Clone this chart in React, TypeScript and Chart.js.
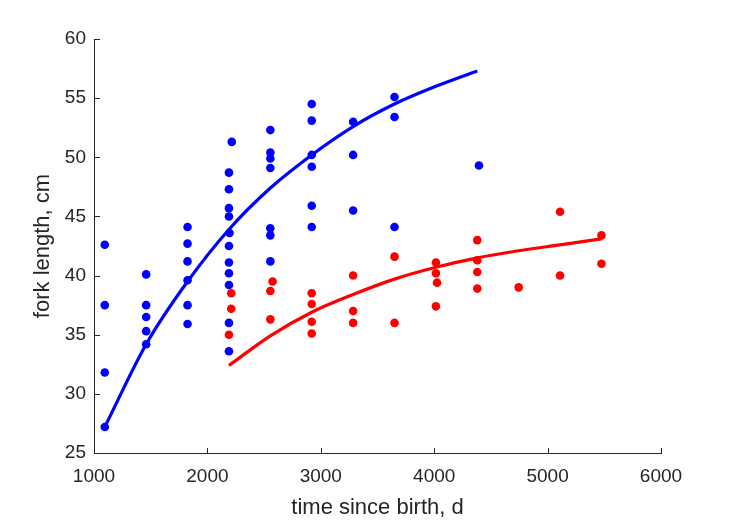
import React, { useEffect, useRef } from "react";
import { Chart, registerables } from "chart.js";

Chart.register(...registerables);

// Axis ticks
const xTicks = [1000, 2000, 3000, 4000, 5000, 6000];
const yTicks = [25, 30, 35, 40, 45, 50, 55, 60];

// Blue observations (time since birth, d / fork length, cm)
const blueT = [
  1095, 1095, 1095, 1095,
  1460, 1460, 1460, 1460, 1460,
  1825, 1825, 1825, 1825, 1825, 1825,
  2215, 2190, 2190, 2190, 2190, 2195, 2190, 2190, 2190, 2190, 2190, 2190,
  2555, 2555, 2555, 2555, 2555, 2555, 2555,
  2920, 2920, 2920, 2920, 2920, 2920,
  3285, 3285, 3285,
  3650, 3650, 3650,
  4395,
];
const blueL = [
  42.6, 37.5, 31.8, 27.2,
  40.1, 37.5, 36.5, 35.3, 34.2,
  44.1, 42.7, 41.2, 39.6, 37.5, 35.9,
  51.3, 48.7, 47.3, 45.7, 45.0, 43.6, 42.5, 41.1, 40.2, 39.2, 36.0, 33.6,
  52.3, 50.4, 49.9, 49.1, 44.0, 43.4, 41.2,
  54.5, 53.1, 50.2, 49.2, 45.9, 44.1,
  53.0, 50.2, 45.5,
  55.1, 53.4, 44.1,
  49.3,
];

// Red observations
const redT = [
  2210, 2210, 2190,
  2575, 2555, 2555,
  2920, 2920, 2920, 2920,
  3285, 3285, 3285,
  3650, 3650,
  4015, 4015, 4025, 4015,
  4380, 4380, 4380, 4380,
  4745,
  5110, 5110,
  5475, 5475,
];
const redL = [
  38.5, 37.2, 35.0,
  39.5, 38.7, 36.3,
  38.5, 37.6, 36.1, 35.1,
  40.0, 37.0, 36.0,
  41.6, 36.0,
  41.1, 40.2, 39.4, 37.4,
  43.0, 41.3, 40.3, 38.9,
  39.0,
  45.4, 40.0,
  43.4, 41.0,
];

// Fitted growth curves
const blueCurveT = [1095, 1460, 1825, 2190, 2555, 2920, 3285, 3650, 4015, 4380];
const blueCurveL = [27.2, 34.2, 39.5, 43.9, 47.4, 50.2, 52.6, 54.5, 56.0, 57.3];
const redCurveT = [2190, 2555, 2920, 3285, 3650, 4015, 4380, 4745, 5110, 5475];
const redCurveL = [32.4, 34.9, 36.9, 38.4, 39.7, 40.7, 41.5, 42.1, 42.6, 43.1];

const xLabel = "time since birth, d";
const yLabel = "fork length, cm";

const TEXT = "#262626";
const FONT = "'Liberation Sans', Arial, Helvetica, sans-serif";

export default function App() {
  const ref = useRef<HTMLCanvasElement>(null);

  useEffect(() => {
    const canvas = ref.current;
    if (!canvas) return;
    const pts = (t: number[], l: number[]) => t.map((x, i) => ({ x, y: l[i] }));

    const inwardTicks = {
      id: "inwardTicks",
      afterDraw(chart: any) {
        const ctx = chart.ctx;
        const area = chart.chartArea;
        const xs = chart.scales.x;
        const ys = chart.scales.y;
        const len = 5.5;
        ctx.save();
        ctx.strokeStyle = TEXT;
        ctx.lineWidth = 1;
        ctx.beginPath();
        const b = Math.round(area.bottom) + 0.5;
        const l = Math.round(area.left) + 0.5;
        xTicks.forEach((v) => {
          const px = Math.round(xs.getPixelForValue(v)) + 0.5;
          ctx.moveTo(px, b);
          ctx.lineTo(px, b - len);
        });
        yTicks.forEach((v) => {
          const py = Math.round(ys.getPixelForValue(v)) + 0.5;
          ctx.moveTo(l, py);
          ctx.lineTo(l + len, py);
        });
        ctx.stroke();
        ctx.restore();
      },
    };

    const chart = new Chart(canvas, {
      type: "scatter",
      data: {
        datasets: [
          {
            type: "line",
            data: pts(blueCurveT, blueCurveL),
            borderColor: "#0000FF",
            borderWidth: 3.2,
            pointRadius: 0,
            cubicInterpolationMode: "monotone",
            fill: false,
          } as any,
          {
            type: "line",
            data: pts(redCurveT, redCurveL),
            borderColor: "#FF0000",
            borderWidth: 3.2,
            pointRadius: 0,
            cubicInterpolationMode: "monotone",
            fill: false,
          } as any,
          {
            data: pts(blueT, blueL),
            backgroundColor: "#0000FF",
            borderColor: "#0000FF",
            borderWidth: 0,
            pointRadius: 4.3,
          },
          {
            data: pts(redT, redL),
            backgroundColor: "#FF0000",
            borderColor: "#FF0000",
            borderWidth: 0,
            pointRadius: 4.3,
          },
        ],
      },
      options: {
        responsive: false,
        animation: false,
        devicePixelRatio: 1,
        layout: { padding: { left: 0, top: 39, right: 68, bottom: 0 } },
        plugins: {
          legend: { display: false },
          tooltip: { enabled: false },
        },
        scales: {
          x: {
            type: "linear",
            min: 1000,
            max: 6000,
            afterBuildTicks: (s: any) => {
              s.ticks = xTicks.map((v) => ({ value: v }));
            },
            afterFit: (s: any) => {
              s.height = 68;
            },
            grid: { display: false, drawTicks: false },
            border: { display: true, color: TEXT, width: 1 },
            ticks: {
              color: TEXT,
              font: { family: FONT, size: 19 },
              padding: 12,
              maxRotation: 0,
              autoSkip: false,
              callback: (v: any) => String(v),
            },
            title: {
              display: true,
              text: xLabel,
              color: TEXT,
              font: { family: FONT, size: 22 },
              padding: { top: 0, bottom: 0 },
            },
          },
          y: {
            type: "linear",
            min: 25,
            max: 60,
            afterBuildTicks: (s: any) => {
              s.ticks = yTicks.map((v) => ({ value: v }));
            },
            afterFit: (s: any) => {
              s.width = 94;
            },
            grid: { display: false, drawTicks: false },
            border: { display: true, color: TEXT, width: 1 },
            ticks: {
              color: TEXT,
              font: { family: FONT, size: 19 },
              padding: 8,
              autoSkip: false,
              callback: (v: any) => String(v),
            },
            title: {
              display: true,
              text: yLabel,
              color: TEXT,
              font: { family: FONT, size: 22 },
              padding: { top: 30, bottom: 0 },
            },
          },
        },
      },
      plugins: [inwardTicks],
    } as any);

    return () => chart.destroy();
  }, []);

  return (
    <div style={{ position: "absolute", left: 0, top: 0, width: 729, height: 521, background: "#fff" }}>
      <canvas ref={ref} width={729} height={521} style={{ width: 729, height: 521, display: "block" }} />
    </div>
  );
}
